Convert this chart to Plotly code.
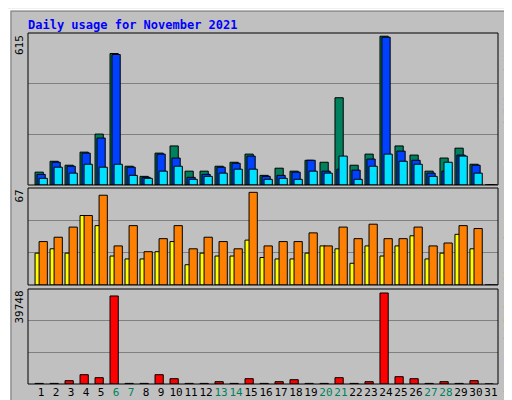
import plotly.graph_objects as go

days = list(range(1, 32))
hits  = [52,96,80,133,206,532,76,35,129,158,56,56,76,92,125,39,68,56,100,92,353,80,125,602,158,121,56,109,149,84,0]
files = [43,92,76,129,190,528,72,31,125,109,31,43,72,88,117,35,39,52,100,56,64,60,105,598,137,100,48,56,121,80,0]
pages = [27,72,48,84,72,84,39,27,56,76,23,35,48,64,64,23,27,23,56,48,117,23,76,125,96,84,35,92,117,48,0]
sites = [30,33,40,48,62,27,41,23,32,41,25,33,30,25,64,27,30,30,36,27,40,32,42,32,32,40,27,29,41,39,0]
visits= [22,25,22,48,41,20,18,18,23,30,14,22,20,20,31,19,18,18,22,27,25,15,27,20,27,34,18,22,35,25,0]
kbf   = [250,250,1390,3890,2640,36830,250,250,3890,2220,250,250,970,250,2220,250,970,1800,250,250,2640,250,970,38080,3060,2220,250,970,250,1390,0]
weekend = [6,7,13,14,20,21,27,28]
max_hits, max_sites, max_kb = 615, 67, 39748

fig = go.Figure()
line = dict(color="black", width=1)
def bar(y, color, off, w, ax):
    fig.add_trace(go.Bar(x=days, y=y, marker=dict(color=color, line=line), offset=off, width=w,
                         xaxis="x"+ax, yaxis="y"+ax, showlegend=False))
bar(hits, "#00805C", -0.4, 0.55, "")
bar(files, "#0040FF", -0.27, 0.55, "")
bar(pages, "#00E0FF", -0.13, 0.55, "")
bar(visits, "#FFFF00", -0.4, 0.35, "2")
bar(sites, "#FF8000", -0.13, 0.55, "2")
bar(kbf, "#FF0000", -0.4, 0.55, "3")

xd = [20/512, 490/512]
ticktext = [f"<span style='color:#00805C'>{d}</span>" if d in weekend else str(d) for d in days]
common_x = dict(range=[0.13, 31.47], showgrid=False, zeroline=False, showline=False, fixedrange=True,
                automargin=False)
grid = dict(showgrid=True, gridcolor="#808080", gridwidth=1, zeroline=False, showticklabels=False,
            ticks="", automargin=False)
fig.update_layout(
    width=512, height=400, margin=dict(l=0, r=0, t=0, b=0, autoexpand=False),
    paper_bgcolor="#C0C0C0", plot_bgcolor="#C0C0C0", barmode="overlay",
    font=dict(family="DejaVu Sans Mono", size=11, color="black"),
    xaxis=dict(domain=xd, anchor="y", showticklabels=False, **common_x),
    xaxis2=dict(domain=xd, anchor="y2", showticklabels=False, **common_x),
    xaxis3=dict(domain=xd, anchor="y3", tickmode="array", tickvals=days, ticktext=ticktext,
                tickangle=0, tickfont=dict(size=11), ticks="", ticklen=0, **common_x),
    yaxis=dict(domain=[0.5575, 0.9375], range=[0, max_hits], tickvals=[205, 410], **grid),
    yaxis2=dict(domain=[0.3075, 0.55], range=[0, max_sites], tickvals=[22.33, 44.67], **grid),
    yaxis3=dict(domain=[0.06, 0.2975], range=[0, max_kb], tickvals=[13249, 26499], **grid),
)
shapes = []
for y0, y1 in [(0.5575, 0.9375), (0.3075, 0.55), (0.06, 0.2975)]:
    shapes.append(dict(type="rect", xref="paper", yref="paper", x0=xd[0], x1=xd[1], y0=y0, y1=y1,
                       line=dict(color="black", width=1)))
shapes.append(dict(type="rect", xref="paper", yref="paper", x0=0.002, x1=0.998, y0=0.003, y1=0.997,
                   line=dict(color="white", width=2)))
shapes.append(dict(type="rect", xref="paper", yref="paper", x0=0.006, x1=0.994, y0=0.008, y1=0.992,
                   line=dict(color="#808080", width=1)))
fig.update_layout(shapes=shapes)
ann = [
    dict(text="<b>Daily usage for November 2021</b>", x=18/512, y=1-8/400, xanchor="left", yanchor="top",
         font=dict(color="#0000FF", size=12)),
    dict(text="615", x=11/512, y=0.9375, textangle=-90, xanchor="center", yanchor="top"),
    dict(text="67", x=11/512, y=0.55, textangle=-90, xanchor="center", yanchor="top"),
    dict(text="39748", x=11/512, y=0.2975, textangle=-90, xanchor="center", yanchor="top"),
    dict(text="<span style='color:#00E0FF'>Pages</span> / <span style='color:#0040FF'>Files</span> / <span style='color:#00805C'>Hits</span>",
         x=500/512, y=0.9375, textangle=-90, xanchor="center", yanchor="top"),
    dict(text="<span style='color:#FF8000'>Sites</span> / <span style='color:#FFFF00'>Visits</span>",
         x=500/512, y=0.55, textangle=-90, xanchor="center", yanchor="top"),
    dict(text="<span style='color:#FF0000'>kB F</span> / <span style='color:#0080FF'>kB In</span> / <span style='color:#00C000'>kB Out</span>",
         x=500/512, y=0.2975, textangle=-90, xanchor="center", yanchor="top"),
]
for a in ann:
    a.update(xref="paper", yref="paper", showarrow=False)
fig.update_layout(annotations=ann)
fig.write_html("out.html")
